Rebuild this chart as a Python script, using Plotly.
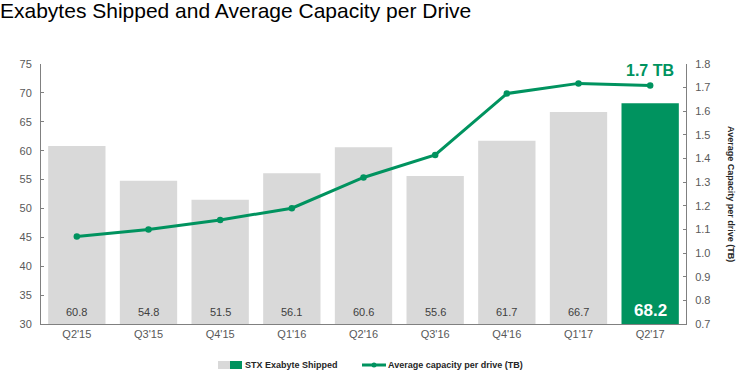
import plotly.graph_objects as go

quarters = ["Q2'15", "Q3'15", "Q4'15", "Q1'16", "Q2'16", "Q3'16", "Q4'16", "Q1'17", "Q2'17"]
exabytes = [60.8, 54.8, 51.5, 56.1, 60.6, 55.6, 61.7, 66.7, 68.2]
avg_capacity = [1.07, 1.10, 1.14, 1.19, 1.32, 1.415, 1.675, 1.718, 1.709]
left_ticks = [30, 35, 40, 45, 50, 55, 60, 65, 70, 75]
right_ticks = [0.7, 0.8, 0.9, 1.0, 1.1, 1.2, 1.3, 1.4, 1.5, 1.6, 1.7, 1.8]

GRAY = "#d9d9d9"
GREEN = "#00935f"
TICK = "#595959"
FONT = "Liberation Sans, Arial, sans-serif"

W, H = 745, 372
ML, MR, MT, MB = 41, 59, 64, 48
pw, ph = W - ML - MR, H - MT - MB


def px(xp):
    return (xp - ML) / pw


def py(yp):
    return (H - MB - yp) / ph


bar_colors = [GRAY] * (len(quarters) - 1) + [GREEN]

fig = go.Figure()
fig.add_trace(go.Bar(x=quarters, y=exabytes, marker=dict(color=bar_colors, line=dict(width=0)),
                     name="STX Exabyte Shipped", showlegend=False))
fig.add_trace(go.Scatter(x=quarters, y=avg_capacity, yaxis="y2", mode="lines+markers",
                         line=dict(color=GREEN, width=3), marker=dict(color=GREEN, size=6.5),
                         name="Average capacity per drive (TB)", showlegend=False))

for i, (q, v) in enumerate(zip(quarters, exabytes)):
    last = i == len(quarters) - 1
    fig.add_annotation(x=q, y=30, xref="x", yref="y", text=(f"<b>{v}</b>" if last else f"{v}"),
                       showarrow=False, yanchor="bottom", yshift=4 if not last else 2,
                       font=dict(size=17 if last else 11, color="white" if last else "#404040", family=FONT))
fig.add_annotation(x=quarters[-1], y=avg_capacity[-1], xref="x", yref="y2", text="<b>1.7 TB</b>",
                   showarrow=False, yanchor="bottom", yshift=5,
                   font=dict(size=16, color=GREEN, family=FONT))
fig.add_annotation(x=px(738), y=py(194), xref="paper", yref="paper",
                   text="<b>Average Capacity per drive (TB)</b>",
                   showarrow=False, textangle=90, font=dict(size=9, color="#262626", family=FONT))

fig.update_layout(
    width=W, height=H,
    margin=dict(l=ML, r=MR, t=MT, b=MB, autoexpand=False),
    paper_bgcolor="white", plot_bgcolor="white",
    title=dict(text="Exabytes Shipped and Average Capacity per Drive", x=0.0, xanchor="left", xref="container",
               y=0.99, yanchor="top", yref="container", pad=dict(t=0, l=0),
               font=dict(family=FONT, size=21, color="#000000")),
    font=dict(family=FONT, size=11, color=TICK),
    bargap=0.2,
    xaxis=dict(showline=True, linecolor="#808080", linewidth=1, ticks="", tickfont=dict(size=11, color=TICK),
               range=[-0.5, len(quarters) - 0.5], showgrid=False, zeroline=False, automargin=False),
    yaxis=dict(range=[30, 75], tickvals=left_ticks, showline=True, linecolor="#808080", linewidth=1,
               ticks="inside", ticklen=3, tickcolor="#808080", showgrid=False, zeroline=False,
               tickfont=dict(size=11, color=TICK), ticklabelstandoff=6, automargin=False),
    yaxis2=dict(range=[0.7, 1.8], tickvals=right_ticks, tickformat=".1f", overlaying="y", side="right",
                showline=True, linecolor="#808080", linewidth=1, ticks="inside", ticklen=3, tickcolor="#808080",
                showgrid=False, zeroline=False, tickfont=dict(size=11, color=TICK), ticklabelstandoff=6,
                automargin=False),
    showlegend=False,
)

# custom legend
fig.add_shape(type="rect", xref="paper", yref="paper", x0=px(218), x1=px(230), y0=py(369), y1=py(361),
              fillcolor=GRAY, line=dict(width=0))
fig.add_shape(type="rect", xref="paper", yref="paper", x0=px(230), x1=px(242), y0=py(369), y1=py(361),
              fillcolor=GREEN, line=dict(width=0))
fig.add_annotation(x=px(243), y=py(365), xref="paper", yref="paper", text="<b>STX Exabyte Shipped</b>",
                   showarrow=False, xanchor="left", yanchor="middle", font=dict(size=9, color="#262626", family=FONT))
fig.add_shape(type="line", xref="paper", yref="paper", x0=px(362), x1=px(386), y0=py(365), y1=py(365),
              line=dict(color=GREEN, width=3))
fig.add_shape(type="circle", xref="paper", yref="paper", x0=px(371.5), x1=px(376.5), y0=py(367.5), y1=py(362.5),
              fillcolor=GREEN, line=dict(width=0))
fig.add_annotation(x=px(386), y=py(365), xref="paper", yref="paper", text="<b>Average capacity per drive (TB)</b>",
                   showarrow=False, xanchor="left", yanchor="middle", font=dict(size=9, color="#262626", family=FONT))

fig.write_html("out.html", config={"displayModeBar": False},
               post_script="document.body.style.margin='0';document.body.style.overflow='hidden';")
